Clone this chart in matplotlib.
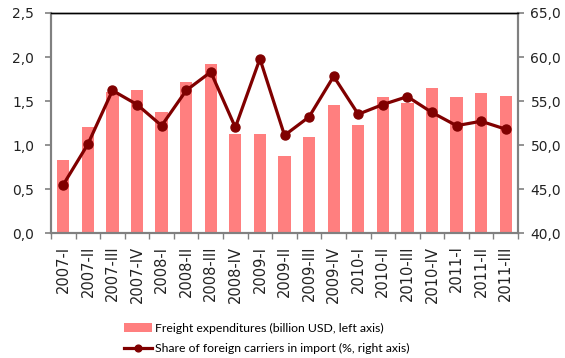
import matplotlib
matplotlib.use("Agg")
import matplotlib.pyplot as plt
import numpy as np

plt.rcParams['font.family'] = ['DejaVu Sans']

quarters = ["2007-I", "2007-II", "2007-III", "2007-IV",
            "2008-I", "2008-II", "2008-III", "2008-IV",
            "2009-I", "2009-II", "2009-III", "2009-IV",
            "2010-I", "2010-II", "2010-III", "2010-IV",
            "2011-I", "2011-II", "2011-III"]
freight = [0.83, 1.20, 1.60, 1.62, 1.38, 1.72, 1.92, 1.12, 1.13, 0.87,
           1.09, 1.45, 1.23, 1.54, 1.48, 1.65, 1.55, 1.59, 1.56]
share = [45.5, 50.1, 56.2, 54.6, 52.2, 56.2, 58.3, 52.0, 59.8, 51.1,
         53.2, 57.8, 53.5, 54.6, 55.5, 53.7, 52.2, 52.7, 51.8]

left_ticks = [0.0, 0.5, 1.0, 1.5, 2.0, 2.5]
right_ticks = [40.0, 45.0, 50.0, 55.0, 60.0, 65.0]

bar_color = "#FF7F7F"
line_color = "#800000"
gray = "#808080"
text_color = "#222222"

fig = plt.figure(figsize=(5.65, 3.58), dpi=100)
ax = fig.add_axes([0.0903, 0.349, 0.8265, 0.6147])
ax2 = ax.twinx()

x = np.arange(len(quarters))
bars = ax.bar(x, freight, width=0.5, color=bar_color, zorder=2,
              label="Freight expenditures (billion USD, left axis)")
line, = ax2.plot(x, share, color=line_color, lw=2.3, marker="o", ms=6.5,
                 zorder=3, label="Share of foreign carriers in import (%, right axis)")

ax.set_xlim(-0.5, len(quarters) - 0.5)
ax.set_ylim(0, 2.5)
ax2.set_ylim(40, 65)
ax.set_yticks(left_ticks)
ax.set_yticklabels([f"{v:.1f}".replace(".", ",") for v in left_ticks])
ax2.set_yticks(right_ticks)
ax2.set_yticklabels([f"{v:.1f}".replace(".", ",") for v in right_ticks])

ax.set_xticks(x)
ax.set_xticklabels(quarters, rotation=90)
ax.set_xticks(np.arange(-0.5, len(quarters)), minor=True)
ax.tick_params(axis="x", which="major", length=0, pad=9,
               labelsize=10.5, labelcolor=text_color)
ax.tick_params(axis="x", which="minor", length=4, color=gray, width=1)

ax.tick_params(axis="y", length=4, color=gray, width=1.2, labelsize=10,
               labelcolor=text_color, pad=8)
ax2.tick_params(axis="y", length=4, color=gray, width=1.2, labelsize=10,
                labelcolor=text_color, pad=5)

for a in (ax, ax2):
    for side in ("left", "right", "bottom"):
        a.spines[side].set_color(gray)
        a.spines[side].set_linewidth(1.5)
    a.spines["top"].set_color("black")
    a.spines["top"].set_linewidth(1.0)

ax.set_zorder(ax2.get_zorder() - 1)
ax2.patch.set_visible(False)

fig.legend(handles=[bars, line], loc="upper left",
           bbox_to_anchor=(0.219, 0.098), frameon=False,
           prop={"family": ["Lato"], "size": 8.8},
           handlelength=2.3, handletextpad=0.25, labelspacing=0.75,
           borderpad=0, borderaxespad=0, markerscale=0.75)

fig.savefig("out.png", dpi=100)
